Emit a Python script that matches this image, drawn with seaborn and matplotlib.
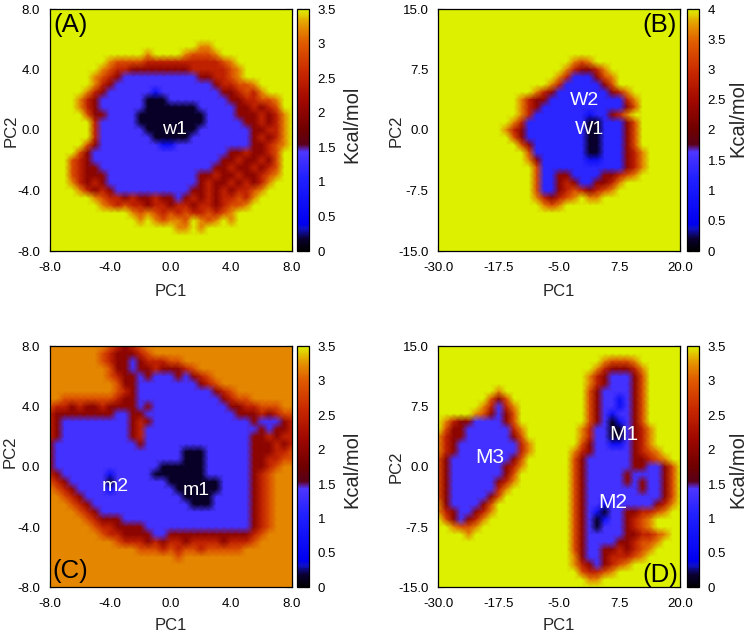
import numpy as np
import pandas as pd
import seaborn as sns
import matplotlib.pyplot as plt
from matplotlib.colors import LinearSegmentedColormap

sns.set_theme(style="ticks")
plt.rcParams["font.family"] = ["Liberation Sans", "DejaVu Sans"]

# free energy (Kcal/mol) of each code 0..7 used in the grids below
levels_35 = [0.15, 0.7, 1.35, 2.0, 2.5, 2.9, 3.2, 3.5]
levels_40 = [0.2, 0.8, 1.3, 2.3, 2.85, 3.3, 3.65, 4.0]

# 33 x 33 grids, top row = max PC2, left column = min PC1
grid_a = [
    "777777777777777777777777777777777",
    "777777777777777777777777777777777",
    "777777777777777777777777777777777",
    "777777777777777777777777777777777",
    "777777777777777777777777777777777",
    "777777777777777777776677777777777",
    "777777777777767777655567777777777",
    "777777776555544444444445677777777",
    "777777765443333333344444567777777",
    "777777654322222222223344567777777",
    "777777643222222222222234455677777",
    "777776432222221222222223345467777",
    "777764322222200022222222334455677",
    "777764322222200000002222233434577",
    "777775332222000000000222233343467",
    "777777422222000000000222223343467",
    "777777422222200000002222222334467",
    "777777422222220000022222222343467",
    "777775322222222112222222222334567",
    "777753222222222222222222334334577",
    "777543222222222222222223343343577",
    "777543322222222222222233433434577",
    "777543332222222222223343343345677",
    "777643432222222222223433434346777",
    "777764343222222222233434344567777",
    "777777654434334332343434454677777",
    "777777765454434434434434556777777",
    "777777777776565454544545677777777",
    "777777777777676566576567677777777",
    "777777777777777776676777777777777",
    "777777777777777777777777777777777",
    "777777777777777777777777777777777",
    "777777777777777777777777777777777",
]

grid_b = [
    "777777777777777777777777777777777",
    "777777777777777777777777777777777",
    "777777777777777777777777777777777",
    "777777777777777777777777777777777",
    "777777777777777777777777777777777",
    "777777777777777777777777777777777",
    "777777777777777777777777777777777",
    "777777777777777777656777777777777",
    "777777777777777776433467777777777",
    "777777777777777764222356777777777",
    "777777777777777642222235777777777",
    "777777777777764322222223467777777",
    "777777777776433222222222246777777",
    "777777777776432222222222235777777",
    "777777777776422222221223467777777",
    "777777777764222222220022235777777",
    "777777777643222222220022235777777",
    "777777777753222222220022235777777",
    "777777777775322222220022235777777",
    "777777777777522222220022234677777",
    "777777777777632222221122234677777",
    "777777777777752222222222234677777",
    "777777777777752233222233456777777",
    "777777777777752234322334677777777",
    "777777777777752234543456777777777",
    "777777777777764345676677777777777",
    "777777777777776567777777777777777",
    "777777777777777777777777777777777",
    "777777777777777777777777777777777",
    "777777777777777777777777777777777",
    "777777777777777777777777777777777",
    "777777777777777777777777777777777",
    "777777777777777777777777777777777",
]

grid_c = [
    "666666665434566666666666666666666",
    "666666654333456666666666666666666",
    "666666654332344455666666666666666",
    "666666665332334333456666666666666",
    "666666665433232223234566666666666",
    "666666666533222222223456666666666",
    "666666666543222222222234566666666",
    "665555555433222222222223455666666",
    "544343343333232222222222334455566",
    "433333333223322222222222233343455",
    "432222222223432222222222222322234",
    "432222222223422222222222222232334",
    "432222222223422222222222222334344",
    "322222222222322222222222222333434",
    "322222222222222222000222222333445",
    "322222222222222222000222222334455",
    "322222222222222000000222222334566",
    "432222221222220000000222222345666",
    "543222220222222200000002222345666",
    "654322221222222220000002222345666",
    "665432222222222222000022222345666",
    "666543222222222222200022222345666",
    "666654322222222222222222222345666",
    "666665433322222222222222222345666",
    "666666544333322222222222222345666",
    "666666654433332233333333333456666",
    "666666666544434344344443444566666",
    "666666666666555454554555556666666",
    "666666666666666665666666666666666",
    "666666666666666666666666666666666",
    "666666666666666666666666666666666",
    "666666666666666666666666666666666",
    "666666666666666666666666666666666",
]

grid_d = [
    "777777777777777777777777777777777",
    "777777777777777777777777777777777",
    "777777777777777777777765556777777",
    "777777777777777777777643334677777",
    "777777777777777777776432223577777",
    "777777777777777777776432223577777",
    "777777776777777777775322223577777",
    "777777753577777777775322123577777",
    "777777642467777777775322123577777",
    "777776532357777777775321223577777",
    "764332222357777777775320123577777",
    "753322222246777777764220023467777",
    "643322222235777777764220023467777",
    "643222222224677777753221123467777",
    "643222222224677777643222223456777",
    "532222222235777777532222223345677",
    "532222222346777777532222223322357",
    "532222222357777777532222232222357",
    "532222223467777777532222232322357",
    "532222224677777777532222222322357",
    "532222235777777777532222222222357",
    "632222357777777777532212222223467",
    "643223467777777777532102233445677",
    "753234677777777777532012234567777",
    "776556777777777777532022234567777",
    "777767777777777777532222233445677",
    "777777777777777777532222334556777",
    "777777777777777777532233434567777",
    "777777777777777777632234445677777",
    "777777777777777777643234567777777",
    "777777777777777777754456777777777",
    "777777777777777777776677777777777",
    "777777777777777777777777777777777",
]

ticks_small = [-8.0, -4.0, 0.0, 4.0, 8.0]
ticks_bx = [-30.0, -17.5, -5.0, 7.5, 20.0]
ticks_by = [-15.0, -7.5, 0.0, 7.5, 15.0]
cbar_ticks_35 = [0, 0.5, 1, 1.5, 2, 2.5, 3, 3.5]
cbar_ticks_40 = [0, 0.5, 1, 1.5, 2, 2.5, 3, 3.5, 4]

labels_a = [("w1", 0.25, 0.0)]
labels_b = [("W2", 0.3, 3.7), ("W1", 1.3, 0.0)]
labels_c = [("m2", -3.65, -1.3), ("m1", 1.7, -1.6)]
labels_d = [("M3", -19.4, 1.1), ("M1", 8.4, 4.0), ("M2", 6.1, -4.5)]

# gnuplot-like palette: black -> blue -> violet | maroon -> red -> orange -> yellow
cmap = LinearSegmentedColormap.from_list("fel", [
    (0.00, "#000000"), (0.05, "#0a0030"), (0.09, "#1010c8"), (0.11, "#0000f0"),
    (0.30, "#2020ff"), (0.41, "#4e36ff"), (0.425, "#5a1a90"), (0.44, "#5a0018"),
    (0.50, "#6e0000"), (0.62, "#a00800"), (0.74, "#c82800"), (0.86, "#e05a00"),
    (0.92, "#e48800"), (0.96, "#e4b400"), (1.00, "#dcf000"),
])

W, H = 749, 637
fig = plt.figure(figsize=(W / 100, H / 100), dpi=100)


def frac(x0, y0, x1, y1):
    return [x0 / W, 1 - y1 / H, (x1 - x0) / W, (y1 - y0) / H]


panels = [
    dict(grid=grid_a, levels=levels_35, vmax=3.5, cticks=cbar_ticks_35,
         xr=(-8, 8), yr=(-8, 8), xt=ticks_small, yt=ticks_small,
         box=(49.5, 9, 292, 251), cbox=(297.3, 9, 309.3, 251),
         tag="(A)", tagpos=(0.085, 0.934), labels=labels_a, fs=14,
         pc1=(170.8, 291.5), pc2=(11.5, 131), kcal=(352, 124)),
    dict(grid=grid_b, levels=levels_40, vmax=4.0, cticks=cbar_ticks_40,
         xr=(-30, 20), yr=(-15, 15), xt=ticks_bx, yt=ticks_by,
         box=(438.3, 9, 680.3, 251), cbox=(686.7, 9, 699.3, 251),
         tag="(B)", tagpos=(0.916, 0.934), labels=labels_b, fs=14,
         pc1=(559.3, 291.5), pc2=(396.5, 131), kcal=(738, 118)),
    dict(grid=grid_c, levels=levels_35, vmax=3.5, cticks=cbar_ticks_35,
         xr=(-8, 8), yr=(-8, 8), xt=ticks_small, yt=ticks_small,
         box=(49.5, 346.3, 292, 587.3), cbox=(297.3, 346.3, 309.3, 587.3),
         tag="(C)", tagpos=(0.085, 0.066), labels=labels_c, fs=14,
         pc1=(170.8, 625.5), pc2=(10.5, 452), kcal=(352, 469)),
    dict(grid=grid_d, levels=levels_35, vmax=3.5, cticks=cbar_ticks_35,
         xr=(-30, 20), yr=(-15, 15), xt=ticks_bx, yt=ticks_by,
         box=(438.3, 346.3, 680.3, 587.3), cbox=(686.7, 346.3, 699.3, 587.3),
         tag="(D)", tagpos=(0.916, 0.052), labels=labels_d, fs=15,
         pc1=(559.3, 625.5), pc2=(396.5, 467), kcal=(738, 469)),
]

for p in panels:
    n = len(p["grid"]) - 1
    z = np.array([[p["levels"][int(c)] for c in row.ljust(n + 1, row[-1])[:n + 1]]
                  for row in p["grid"]])
    df = pd.DataFrame(z)

    ax = fig.add_axes(frac(*p["box"]))
    cax = fig.add_axes(frac(*p["cbox"]))
    sns.heatmap(df, ax=ax, cbar_ax=cax, cmap=cmap, vmin=0, vmax=p["vmax"],
                xticklabels=False, yticklabels=False, shading="gouraud")

    x0, x1 = p["xr"]
    y0, y1 = p["yr"]
    xi = lambda v: (v - x0) / (x1 - x0) * n
    yi = lambda v: (y1 - v) / (y1 - y0) * n
    ax.set_xlim(0, n)
    ax.set_ylim(n, 0)
    ax.set_xticks([xi(v) for v in p["xt"]])
    ax.set_xticklabels([f"{v:.1f}" for v in p["xt"]])
    ax.set_yticks([yi(v) for v in p["yt"]])
    ax.set_yticklabels([f"{v:.1f}" for v in p["yt"]])
    ax.set_xlabel("")
    ax.set_ylabel("")
    ax.tick_params(axis="both", direction="in", length=4, width=0.8, color="black",
                   top=True, right=True, bottom=True, left=True,
                   labelsize=9.5, labelcolor="black")
    ax.tick_params(axis="x", pad=8)
    ax.tick_params(axis="y", pad=7)
    for sp in ax.spines.values():
        sp.set_visible(True)
        sp.set_color("black")
        sp.set_linewidth(0.9)

    for txt, lx, ly in p["labels"]:
        ax.text(xi(lx), yi(ly), txt, color="white", fontsize=p["fs"],
                ha="center", va="center")
    ax.text(p["tagpos"][0], p["tagpos"][1], p["tag"], transform=ax.transAxes,
            fontsize=18.5, ha="center", va="center", color="black")

    cb = ax.collections[0].colorbar
    cb.set_ticks(p["cticks"])
    cb.set_ticklabels([f"{v:g}" for v in p["cticks"]])
    cb.outline.set_linewidth(0.9)
    cb.outline.set_edgecolor("black")
    cax.tick_params(direction="in", left=True, right=True, length=3.5, width=0.8,
                    color="black", labelsize=9.5, labelcolor="black", pad=6)

    fig.text(p["pc1"][0] / W, 1 - p["pc1"][1] / H, "PC1", fontsize=12,
             ha="center", va="center")
    fig.text(p["pc2"][0] / W, 1 - p["pc2"][1] / H, "PC2", fontsize=12,
             rotation=90, ha="center", va="center")
    fig.text(p["kcal"][0] / W, 1 - p["kcal"][1] / H, "Kcal/mol", fontsize=14.5,
             rotation=90, ha="center", va="center")

fig.savefig("out.png", dpi=100)
